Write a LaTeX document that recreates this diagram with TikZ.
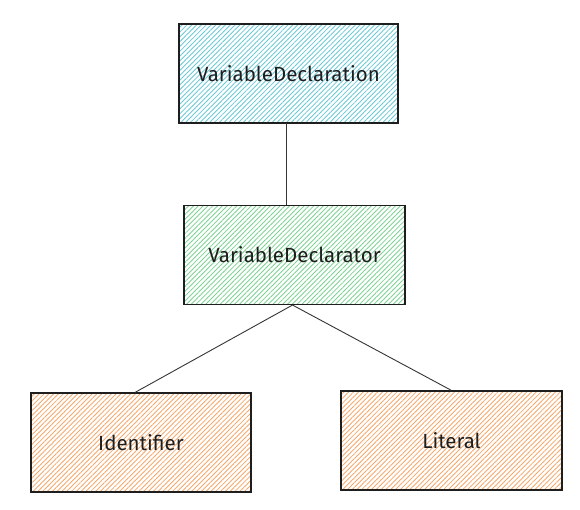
\documentclass[tikz,border=0pt]{standalone}
\usepackage{fontspec}
\setmainfont{Fira Sans}
\usetikzlibrary{patterns.meta}
\definecolor{cyanfill}{HTML}{6CCAD6}
\definecolor{greenfill}{HTML}{7ED394}
\definecolor{orangefill}{HTML}{F5A96C}
\definecolor{ink}{HTML}{1E1E1E}
\tikzset{
  boxnode/.style={draw=ink, line width=1.1pt, minimum width=#1, minimum height=99pt, inner sep=0pt, font=\fontsize{20.5}{22}\selectfont, text=ink},
  hatch/.style={pattern={Lines[angle=45,distance=3.4pt,line width=0.85pt]}, pattern color=#1},
  link/.style={draw=ink!90, line width=0.9pt}
}
\begin{document}
\begin{tikzpicture}[x=1pt,y=-1pt]
\useasboundingbox (0,0) rectangle (580,510);
\fill[white] (0,0) rectangle (580,510);
\node[boxnode=219pt, hatch=cyanfill] (decl) at (288.5,73.5) {VariableDeclaration};
\node[boxnode=221pt, hatch=greenfill] (dtor) at (294.5,255) {VariableDeclarator};
\node[boxnode=220pt, hatch=orangefill] (ident) at (141,442.5) {Identifier};
\node[boxnode=221pt, hatch=orangefill] (lit) at (451.5,440.5) {Literal};
\coordinate (dtorb) at ([xshift=-2pt]dtor.south);
\draw[link] ([xshift=-2pt]decl.south) -- ([xshift=-8pt]dtor.north);
\draw[link] (dtorb) -- ([xshift=-6pt]ident.north);
\draw[link] (dtorb) -- (lit.north);
\end{tikzpicture}
\end{document}
